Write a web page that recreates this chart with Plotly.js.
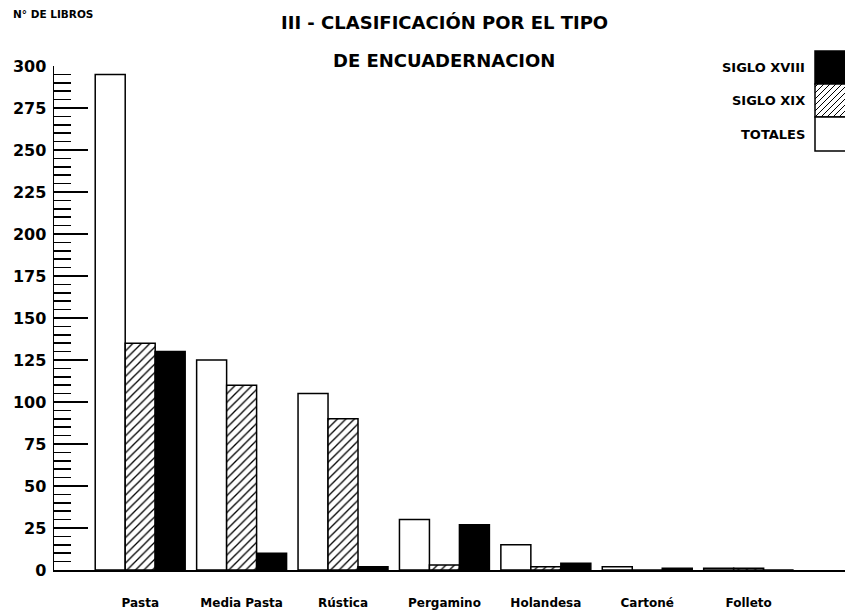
<!DOCTYPE html>
<html>
<head>
<meta charset="utf-8">
<script src="https://cdn.plot.ly/plotly-3.0.1.min.js"></script>
<style>html,body{margin:0;padding:0;background:#fff;}#chart{width:845px;height:611px;}</style>
</head>
<body>
<div id="chart"></div>
<script>
// ---- data ----
const categories = ["Pasta", "Media Pasta", "Rústica", "Pergamino", "Holandesa", "Cartoné", "Folleto"];
const totales    = [295, 125, 105, 30, 15, 2, 1];
const sigloXIX   = [135, 110, 90, 3, 2, 0, 1];
const sigloXVIII = [130, 10, 2, 27, 4, 1, 0];
const seriesNames = ["TOTALES", "SIGLO XIX", "SIGLO XVIII"];
const yTicks = [0, 25, 50, 75, 100, 125, 150, 175, 200, 225, 250, 275, 300];

// ---- layout helpers ----
const W = 845, H = 611;
const M = {l: 54, r: 0, t: 66, b: 41};
const pw = W - M.l - M.r, ph = H - M.t - M.b;
const px = x => (x - M.l) / pw;
const py = y => (H - M.b - y) / ph;
const FONT = "DejaVu Sans, Verdana, sans-serif";

const outline = {color: "#000", width: 1.5};
const traces = [
  {type: "bar", name: seriesNames[0], x: categories, y: totales,
   marker: {color: "#fff", line: outline}},
  {type: "bar", name: seriesNames[1], x: categories, y: sigloXIX,
   marker: {color: "#fff", line: outline,
            pattern: {shape: "/", fgcolor: "#000", bgcolor: "#fff", size: 6, solidity: 0.22}}},
  {type: "bar", name: seriesNames[2], x: categories, y: sigloXVIII,
   marker: {color: "#000", line: outline}}
];

// legend drawn by hand (text left of swatch)
const legX0 = 815, legX1 = 845;
const legRows = [
  {name: seriesNames[2], y0: 51, y1: 84, fill: "#000"},
  {name: seriesNames[1], y0: 84, y1: 117, fill: "hatch"},
  {name: seriesNames[0], y0: 117, y1: 151, fill: "#fff"}
];
const shapes = [];
const annotations = [];
legRows.forEach(r => {
  shapes.push({type: "rect", xref: "paper", yref: "paper",
    x0: px(legX0), x1: px(legX1 + 2), y0: py(r.y1), y1: py(r.y0),
    fillcolor: r.fill === "hatch" ? "#fff" : r.fill, line: {color: "#000", width: 1.5}});
  if (r.fill === "hatch") {
    let d = "";
    for (let c = legX0 + r.y0 + 3; c < legX1 + r.y1; c += 6) {
      const xa = Math.max(legX0, c - r.y1), xb = Math.min(legX1, c - r.y0);
      if (xb <= xa) continue;
      d += `M${px(xa)},${py(c - xa)} L${px(xb)},${py(c - xb)} `;
    }
    shapes.push({type: "path", xref: "paper", yref: "paper", path: d,
      line: {color: "#000", width: 1}});
  }
  annotations.push({xref: "paper", yref: "paper", x: px(807), y: py((r.y0 + r.y1) / 2),
    xanchor: "right", yanchor: "middle", showarrow: false, text: r.name,
    font: {family: FONT, size: 13, color: "#000", weight: 700}});
});

annotations.push({xref: "paper", yref: "paper", x: px(444), y: py(22), xanchor: "center", yanchor: "middle",
  showarrow: false, text: "III - CLASIFICACIÓN POR EL TIPO",
  font: {family: FONT, size: 18, color: "#000", weight: 700}});
annotations.push({xref: "paper", yref: "paper", x: px(444), y: py(60), xanchor: "center", yanchor: "middle",
  showarrow: false, text: "DE ENCUADERNACION",
  font: {family: FONT, size: 18, color: "#000", weight: 700}});
annotations.push({xref: "paper", yref: "paper", x: px(11), y: py(14), xanchor: "left", yanchor: "middle",
  showarrow: false, text: "N° DE LIBROS",
  font: {family: FONT, size: 10.5, color: "#000", weight: 700}});

const layout = {
  width: W, height: H,
  margin: M,
  paper_bgcolor: "#fff", plot_bgcolor: "#fff",
  showlegend: false,
  barmode: "group", bargap: 0.113, bargroupgap: 0,
  xaxis: {type: "category", range: [-0.85, 6.95], showgrid: false, zeroline: false,
    showline: true, linecolor: "#000", linewidth: 1.5, ticks: "",
    ticklabelstandoff: 21,
    tickfont: {family: FONT, size: 12, color: "#000", weight: 700}},
  yaxis: {range: [0, 300], tickvals: yTicks, showgrid: false, zeroline: false,
    showline: true, linecolor: "#000", linewidth: 1.5,
    ticks: "inside", ticklen: 34, tickwidth: 1.5, tickcolor: "#000",
    ticklabelstandoff: 3,
    minor: {dtick: 5, ticks: "inside", ticklen: 17, tickwidth: 1.5, tickcolor: "#000", showgrid: false},
    tickfont: {family: FONT, size: 16, color: "#000", weight: 700}},
  shapes: shapes,
  annotations: annotations
};

Plotly.newPlot("chart", traces, layout, {displayModeBar: false, staticPlot: true});
</script>
</body>
</html>
